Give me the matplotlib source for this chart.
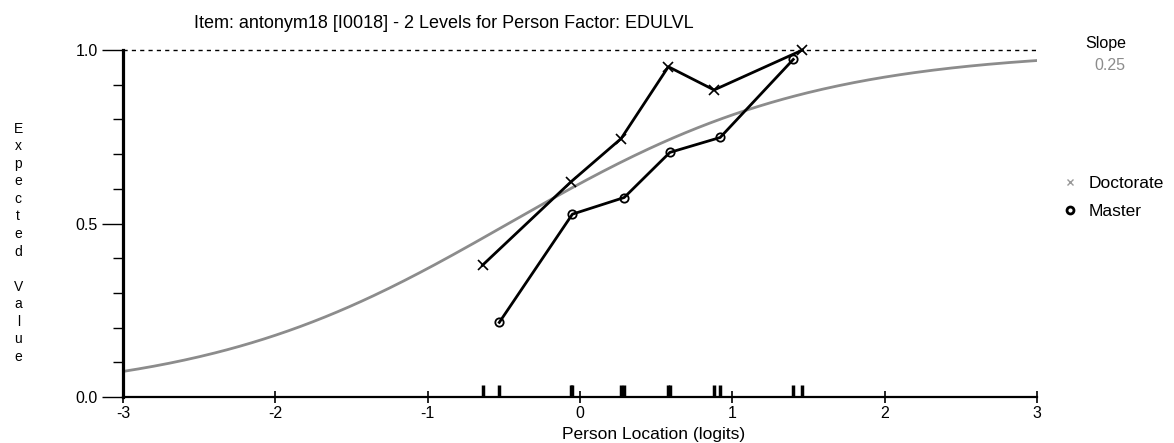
import numpy as np
import matplotlib
matplotlib.use('Agg')
from matplotlib import pyplot as plt
from matplotlib.lines import Line2D

plt.rcParams['font.family'] = ['Liberation Sans', 'DejaVu Sans']

# person locations (logits) and observed means per class interval
doc_x = [-0.64, -0.06, 0.27, 0.58, 0.88, 1.46]
doc_y = [0.38, 0.62, 0.745, 0.952, 0.885, 1.0]
mas_x = [-0.53, -0.05, 0.29, 0.59, 0.92, 1.40]
mas_y = [0.215, 0.527, 0.575, 0.705, 0.748, 0.973]

# item location and slope of the expected value curve
item_loc = -0.47
slope = 0.25

title = 'Item: antonym18 [I0018] - 2 Levels for Person Factor: EDULVL'

fig = plt.figure(figsize=(11.74, 4.43), dpi=100)
ax = fig.add_axes([0.1048, 0.1038, 0.7785, 0.7832])

# expected value curve
theta = np.linspace(-3, 3, 300)
ev = 1.0 / (1.0 + np.exp(-(theta - item_loc)))
ax.plot(theta, ev, color='#8c8c8c', lw=2.0, zorder=2)

# upper asymptote
ax.plot([-3, 3], [1, 1], color='black', lw=1.0, ls=(0, (3, 3)), zorder=1, clip_on=False)

# observed class interval means
ax.plot(doc_x, doc_y, color='black', lw=2.0, marker='x', ms=7, mew=1.2, zorder=3, clip_on=False)
ax.plot(mas_x, mas_y, color='black', lw=2.0, marker='o', ms=6, mfc='none', mew=1.3, zorder=3, clip_on=False)

# rug of class interval locations
rug = sorted(doc_x + mas_x)
ax.vlines(rug, 0, 0.035, colors='black', lw=2.5, zorder=3)

ax.set_xlim(-3, 3)
ax.set_ylim(0, 1)

for s in ('top', 'right'):
    ax.spines[s].set_visible(False)
ax.spines['left'].set_linewidth(2.3)
ax.spines['bottom'].set_linewidth(1.6)

ax.set_xticks([-3, -2, -1, 0, 1, 2, 3])
ax.set_xticklabels(['-3', '-2', '-1', '0', '1', '2', '3'])
ax.set_yticks([0.0, 0.5, 1.0])
ax.set_yticklabels(['0.0', '0.5', '1.0'])
ax.set_yticks(np.arange(0.1, 1.0, 0.1), minor=True)
ax.tick_params(axis='x', direction='inout', length=9, width=1.2, labelsize=11.5, pad=2)
ax.tick_params(axis='y', which='major', direction='out', length=15, width=1.0, labelsize=11.5, pad=3)
ax.tick_params(axis='y', which='minor', direction='out', length=7, width=1.0)

ax.set_xlabel('Person Location (logits)', fontsize=12.5)
ax.xaxis.set_label_coords(0.58, -0.085)

fig.text(0.378, 0.948, title, fontsize=13, ha='center', va='center')

fig.text(0.0155, 0.452, 'E\nx\np\ne\nc\nt\ne\nd\n\nV\na\nl\nu\ne', fontsize=10,
         ha='center', va='center', linespacing=1.32)

fig.text(0.942, 0.902, 'Slope', fontsize=11.5, ha='center', va='center')
fig.text(0.945, 0.853, '%.2f' % slope, fontsize=11.5, ha='center', va='center', color='#8c8c8c')

handles = [Line2D([], [], ls='none', marker='x', color='#999999', ms=5, mew=1.0),
           Line2D([], [], ls='none', marker='o', color='black', mfc='none', ms=5, mew=2.0)]
fig.legend(handles, ['Doctorate', 'Master'], loc='upper left', bbox_to_anchor=(0.898, 0.618),
           frameon=False, fontsize=12.5, handlelength=1.0, handletextpad=0.6, labelspacing=0.75,
           borderaxespad=0)

fig.savefig('out.png', dpi=100)
